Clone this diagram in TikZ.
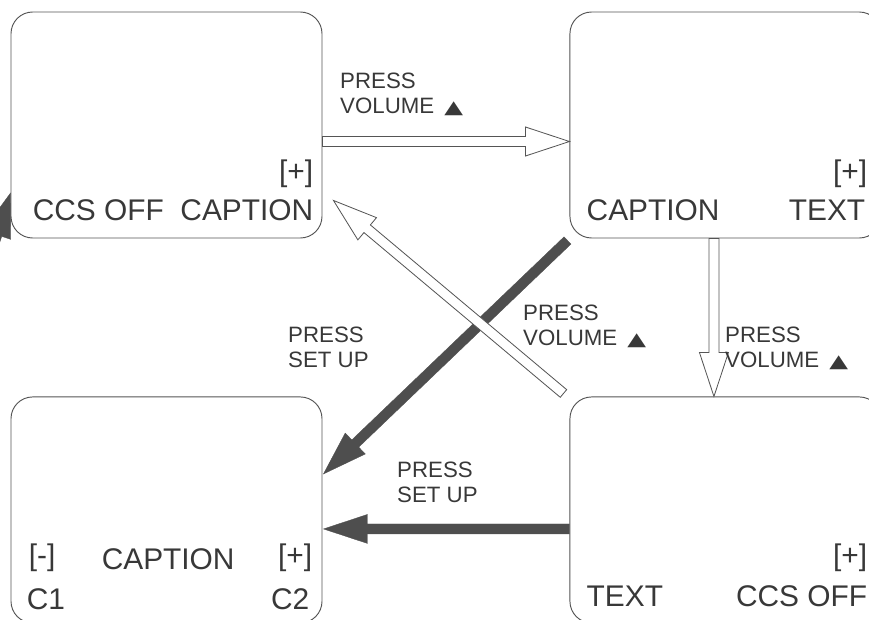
\documentclass[tikz,border=0pt]{standalone}
\usepackage{fontspec}
\setmainfont{Liberation Sans}
\newfontfamily\symfont{DejaVu Sans}
\usetikzlibrary{positioning, calc}
\definecolor{inkgray}{HTML}{383838}
\definecolor{framegray}{HTML}{555555}
\definecolor{bargray}{HTML}{4E4E4E}
\newcommand{\upmark}{\resizebox{16pt}{10pt}{\symfont ▲}}

\begin{document}
\begin{tikzpicture}[x=0.3mm, y=-0.3mm, node distance=47.4mm and 74.1mm,
    screen/.style={draw=framegray, line width=0.8pt, rounded corners=6.5mm,
        minimum width=93.3mm, minimum height=67.8mm, inner sep=0pt},
    scr/.style={inner sep=0pt, text=inkgray, font=\fontsize{25.5}{30}\selectfont},
    lbl/.style={inner sep=0pt, anchor=north west, align=left, text=inkgray,
        font=\fontsize{19}{21}\selectfont},
    block arrow/.style={to path={
        ($(\tikztostart)!1.5mm!90:(\tikztotarget)$)
        -- ($(\tikztotarget)!13.2mm!(\tikztostart)!1.5mm!90:(\tikztotarget)$)
        -- ($(\tikztotarget)!13.2mm!(\tikztostart)!4.35mm!90:(\tikztotarget)$)
        -- (\tikztotarget)
        -- ($(\tikztotarget)!13.2mm!(\tikztostart)!4.35mm!-90:(\tikztotarget)$)
        -- ($(\tikztotarget)!13.2mm!(\tikztostart)!1.5mm!-90:(\tikztotarget)$)
        -- ($(\tikztostart)!1.5mm!-90:(\tikztotarget)$) -- cycle}},
    hollow/.style={block arrow, fill=white, draw=framegray, line width=0.7pt, line join=miter},
    bar/.style={block arrow, fill=bargray, draw=bargray, line width=0.3pt}]

    \useasboundingbox (0,0) rectangle (869,620);
    \clip (0,0) rectangle (869,620);

    % the four screens
    \node[screen] (TL) at (166.5,125) {};
    \node[screen] (TR) [right=of TL] {};
    \node[screen] (BL) [below=of TL] {};
    \node[screen] (BR) [below=of TR] {};

    % screen texts
    \node[scr, anchor=base west] (tlccs) at ([shift={(22,-18)}]TL.south west) {CCS OFF};
    \node[scr, anchor=base east] (tlcap) at ([shift={(-9,-18)}]TL.south east) {CAPTION};
    \node[scr, anchor=base east] (tlplus) at ([shift={(-9,-57)}]TL.south east) {[+]};

    \node[scr, anchor=base west] (trcap) at ([shift={(17,-18)}]TR.south west) {CAPTION};
    \node[scr, anchor=base east] (trtext) at ([shift={(-16,-18)}]TR.south east) {TEXT};
    \node[scr, anchor=base east] (trplus) at ([shift={(-14,-57)}]TR.south east) {[+]};

    \node[scr, anchor=base west] (blminus) at ([shift={(18,-58)}]BL.south west) {[-]};
    \node[scr, anchor=base west] (blcap) at ([shift={(91,-54)}]BL.south west) {CAPTION};
    \node[scr, anchor=base east] (blplus) at ([shift={(-10,-58)}]BL.south east) {[+]};
    \node[scr, anchor=base west] (blcone) at ([shift={(16,-14)}]BL.south west) {C1};
    \node[scr, anchor=base east] (blctwo) at ([shift={(-13,-14)}]BL.south east) {C2};

    \node[scr, anchor=base west] (brtext) at ([shift={(17,-17)}]BR.south west) {TEXT};
    \node[scr, anchor=base east] (brccs) at ([shift={(-14,-17)}]BR.south east) {CCS OFF};
    \node[scr, anchor=base east] (brplus) at ([shift={(-14,-58)}]BR.south east) {[+]};

    % arrow ends
    \coordinate (volAfrom) at ([shift={(0,16.5)}]TL.east);
    \coordinate (volAto) at ([shift={(0,16.5)}]TR.west);
    \coordinate (volBfrom) at ([shift={(-11.5,0)}]TR.south);
    \coordinate (volBto) at ([shift={(-11.5,0)}]BR.north);
    \coordinate (volCfrom) at ([shift={(-6,-3)}]BR.north west);
    \coordinate (volCto) at ([shift={(11,-38)}]TL.south east);
    \coordinate (setAfrom) at ([shift={(-2,2)}]TR.south west);
    \coordinate (setAto) at ([shift={(1,-36)}]BL.east);
    \coordinate (setBfrom) at ([shift={(0,19)}]BR.west);
    \coordinate (setBto) at ([shift={(1,19)}]BL.east);
    \coordinate (offleft) at (-45,364);
    \coordinate (setCto) at ([shift={(0,68)}]TL.west);

    % SET UP arrows
    \draw[bar] (setAfrom) to (setAto);
    \draw[bar] (setBfrom) to (setBto);
    \draw[bar] (offleft) to (setCto);

    % VOLUME arrows
    \draw[hollow] (volAfrom) to (volAto);
    \draw[hollow] (volBfrom) to (volBto);
    \draw[hollow] (volCfrom) to (volCto);

    % labels
    \node[lbl] (lvolA) at (340,73) {PRESS\\VOLUME\hspace{0.45em}\upmark};
    \node[lbl] (lvolB) at (725,327) {PRESS\\VOLUME\hspace{0.45em}\upmark};
    \node[lbl] (lvolC) at (523,305) {PRESS\\VOLUME\hspace{0.45em}\upmark};
    \node[lbl] (lsetA) at (288,327) {PRESS\\SET UP};
    \node[lbl] (lsetB) at (397,462) {PRESS\\SET UP};
\end{tikzpicture}
\end{document}
